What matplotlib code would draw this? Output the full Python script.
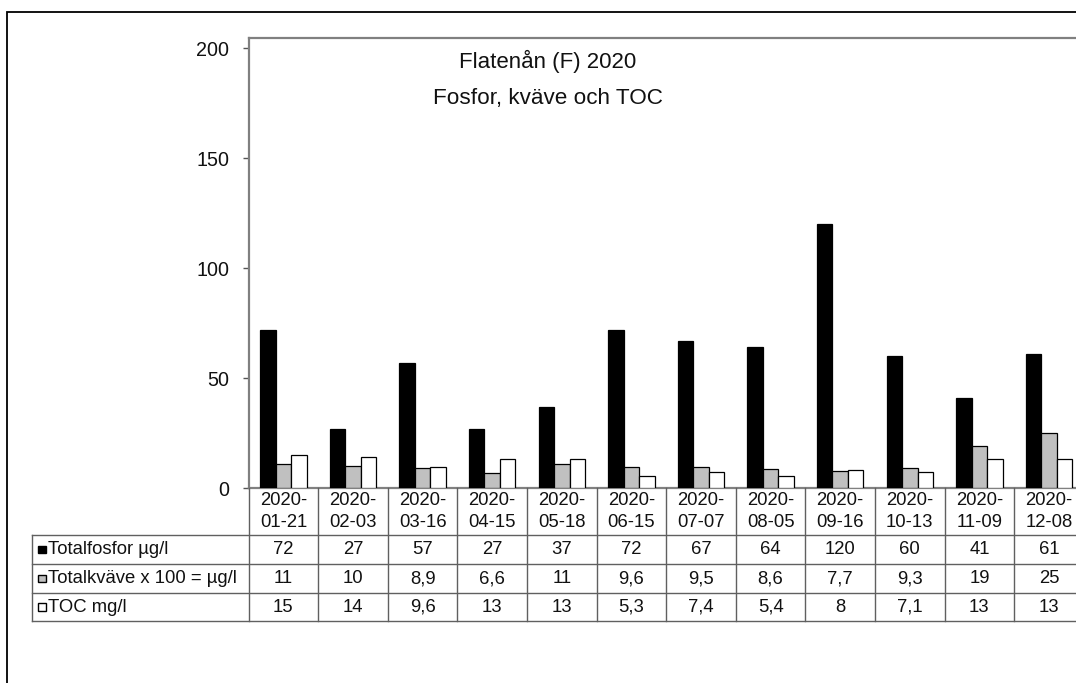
import matplotlib
matplotlib.use("Agg")
import matplotlib.pyplot as plt
from matplotlib import transforms
from matplotlib.lines import Line2D
from matplotlib.patches import Rectangle
import numpy as np

plt.rcParams['font.family'] = ['Liberation Sans', 'DejaVu Sans']

# Sampling dates
dates = ["2020-01-21", "2020-02-03", "2020-03-16", "2020-04-15", "2020-05-18",
         "2020-06-15", "2020-07-07", "2020-08-05", "2020-09-16", "2020-10-13",
         "2020-11-09", "2020-12-08"]

# Measured series
totalfosfor = [72, 27, 57, 27, 37, 72, 67, 64, 120, 60, 41, 61]
totalkvave = [11, 10, 8.9, 6.6, 11, 9.6, 9.5, 8.6, 7.7, 9.3, 19, 25]
toc = [15, 14, 9.6, 13, 13, 5.3, 7.4, 5.4, 8, 7.1, 13, 13]

series_names = ["Totalfosfor µg/l", "Totalkväve x 100 = µg/l", "TOC mg/l"]
series_colors = ["#000000", "#c0c0c0", "#ffffff"]
title_lines = ["Flatenån (F) 2020", "Fosfor, kväve och TOC"]
yticks = [0, 50, 100, 150, 200]

W, H = 1076, 683
fig = plt.figure(figsize=(W / 100, H / 100), dpi=100)


def fx(px):
    return px / W


def fy(py):
    return 1 - py / H


x0_px, x_step = 248.6, 69.6
n = len(dates)
ax_left = fx(x0_px)
ax_right = fx(x0_px + n * x_step)
ax_bottom = fy(488)
ax_top = fy(37.7)
ax = fig.add_axes([ax_left, ax_bottom, ax_right - ax_left, ax_top - ax_bottom])

x = np.arange(n)
bw = 1 / 4.5
all_series = [totalfosfor, totalkvave, toc]
for i, (vals, col) in enumerate(zip(all_series, series_colors)):
    ax.bar(x + (i - 1) * bw, vals, width=bw, color=col, edgecolor="black",
           linewidth=0.9, zorder=3)

ax.set_xlim(-0.5, n - 0.5)
ax.set_ylim(0, 200 * (488 - 37.7) / (488 - 48))
ax.set_yticks(yticks)
ax.set_yticklabels([str(v) for v in yticks], fontsize=14.2, color="#111111")
ax.set_xticks([])
ax.tick_params(axis="y", direction="out", length=4.5, width=1.0,
               color="#555555", pad=9.5)
for side in ["left", "top", "bottom"]:
    ax.spines[side].set_color("#808080")
    ax.spines[side].set_linewidth(1.6)
ax.spines["right"].set_visible(False)

# Chart titles
ax_center_px = 548
fig.text(fx(ax_center_px), fy(61.5), title_lines[0], fontsize=16,
         ha="center", va="center", color="#111111")
fig.text(fx(ax_center_px), fy(98.5), title_lines[1], fontsize=16.2,
         ha="center", va="center", color="#111111")

# Data table under the plot
grid_col = "#606060"
blend = transforms.blended_transform_factory(ax.transData, fig.transFigure)
hdr_top, row_tops = 488, [535, 564, 593, 621]
table_left = 32

for b in np.arange(-0.5, n, 1.0):
    fig.add_artist(Line2D([b, b], [fy(hdr_top), fy(row_tops[-1])],
                          transform=blend, color=grid_col, lw=1.0))
for yy in row_tops:
    fig.add_artist(Line2D([fx(table_left), 1.02], [fy(yy), fy(yy)],
                          transform=fig.transFigure, color=grid_col, lw=1.0))
fig.add_artist(Line2D([fx(table_left), fx(table_left)],
                      [fy(row_tops[0]), fy(row_tops[-1])],
                      transform=fig.transFigure, color=grid_col, lw=1.0))

tsize = 13.3
for i, d in enumerate(dates):
    yr, md = d[:5], d[5:]
    fig.text(i, fy(511.5), yr + "\n" + md, transform=blend, fontsize=tsize,
             ha="center", va="center", linespacing=1.34, color="#111111")


def fmt(v):
    if float(v).is_integer():
        return str(int(v))
    return str(v).replace(".", ",")


key = 7.5
for r, (vals, name, col) in enumerate(zip(all_series, series_names, series_colors)):
    yc = (row_tops[r] + row_tops[r + 1]) / 2
    fig.add_artist(Rectangle((fx(38), fy(yc + key / 2)), fx(key), key / H,
                             transform=fig.transFigure, facecolor=col,
                             edgecolor="black", lw=1.0))
    fig.text(fx(47.5), fy(yc), name, fontsize=tsize, ha="left", va="center",
             color="#111111")
    for i, v in enumerate(vals):
        fig.text(i, fy(yc), fmt(v), transform=blend, fontsize=tsize,
                 ha="center", va="center", color="#111111")

# Outer chart border
fig.add_artist(Rectangle((fx(7), -0.05), 1.1, fy(12) + 0.05,
                         transform=fig.transFigure, facecolor="none",
                         edgecolor="black", lw=1.3))

fig.savefig("out.png", dpi=100)
